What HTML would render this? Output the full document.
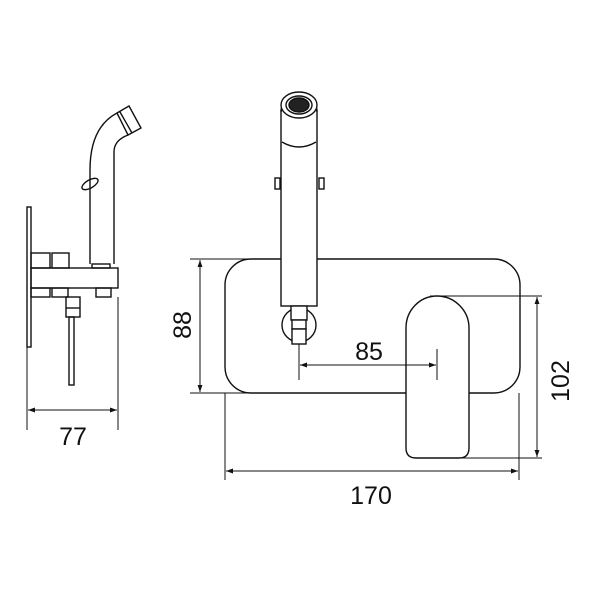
<!DOCTYPE html>
<html><head><style>html,body{margin:0;padding:0;background:#fff}svg{display:block}</style></head>
<body>
<svg width="600" height="600" viewBox="0 0 600 600" xmlns="http://www.w3.org/2000/svg">
<defs>
<marker id="a" viewBox="0 0 10 10" refX="10" refY="5" markerWidth="7" markerHeight="7" orient="auto-start-reverse" markerUnits="userSpaceOnUse"><path d="M0,1.5 L10,5 L0,8.5 z" fill="#111"/></marker>
</defs>
<g fill="none" stroke="#111" stroke-width="1.4">
<!-- left side view -->
<rect x="27" y="207" width="4" height="140"/>
<rect x="31" y="268" width="87" height="20"/>
<rect x="31" y="253" width="19" height="15"/>
<rect x="52" y="253" width="17" height="15"/>
<rect x="31" y="288" width="19" height="9"/>
<rect x="52" y="288" width="16" height="9"/>
<rect x="66" y="297" width="14" height="20"/>
<line x1="66" y1="308" x2="80" y2="308"/>
<rect x="69" y="317" width="5" height="68"/>
<rect x="92" y="264" width="18" height="4"/>
<rect x="96" y="288" width="15" height="9"/>
<path d="M90,264 L90,170 C90,140 100,122 117,113 M114,264 L114,152 C114,143 120,138 128,135"/>
<path d="M117,113 L129,106 L141,128 L128,135 Z M120,112 L132,133"/>
<ellipse cx="90" cy="184" rx="9" ry="4" transform="rotate(-30 90 184)"/>
<!-- 77 dim -->
<line x1="27" y1="347" x2="27" y2="430" stroke-width="1"/>
<line x1="118" y1="297" x2="118" y2="430" stroke-width="1"/>
<line x1="28" y1="410" x2="117" y2="410" stroke-width="1" marker-start="url(#a)" marker-end="url(#a)"/>

<!-- front view plate -->
<rect x="225" y="259" width="295" height="134" rx="26"/>
<!-- lever -->
<path d="M437,296 C454,296 469,310 469,328 L469,448 Q469,458 459,458 L416,458 Q406,458 406,448 L406,328 C406,310 420,296 437,296 Z" fill="#fff"/>
<!-- spout -->
<rect x="281" y="110" width="36" height="196" rx="0" fill="#fff"/>
<path d="M281,112 A18,18 0 0 1 317,112" />
<ellipse cx="299" cy="105" rx="18" ry="13" fill="#fff"/>
<ellipse cx="299" cy="105" rx="13" ry="9"/>
<ellipse cx="299" cy="105" rx="10" ry="7" fill="#222"/>
<path d="M282,142 Q299,152 316,142"/>
<rect x="275" y="178" width="5" height="11"/>
<rect x="319" y="178" width="5" height="11"/>
<circle cx="299" cy="325" r="17" fill="#fff"/>
<rect x="291" y="306" width="16" height="14" fill="#fff"/>
<rect x="292" y="320" width="14" height="9" fill="#fff"/>
<rect x="292" y="329" width="14" height="15" fill="#fff"/>
<!-- dims -->
<g stroke-width="1">
<line x1="190" y1="259" x2="281" y2="259"/>
<line x1="317" y1="259" x2="498" y2="259"/>
<line x1="190" y1="393" x2="406" y2="393"/>
<line x1="200" y1="260" x2="200" y2="392" marker-start="url(#a)" marker-end="url(#a)"/>
<line x1="430" y1="296" x2="542" y2="296"/>
<line x1="460" y1="458" x2="542" y2="458"/>
<line x1="537" y1="297" x2="537" y2="457" marker-start="url(#a)" marker-end="url(#a)"/>
<line x1="225" y1="393" x2="225" y2="480"/>
<line x1="519" y1="393" x2="519" y2="480"/>
<line x1="226" y1="471" x2="518" y2="471" marker-start="url(#a)" marker-end="url(#a)"/>
<line x1="299" y1="344" x2="299" y2="380"/>
<line x1="437" y1="349" x2="437" y2="380"/>
<line x1="300" y1="365" x2="436" y2="365" marker-start="url(#a)" marker-end="url(#a)"/>
</g>
</g>
<g font-family="Liberation Sans, sans-serif" font-size="25" fill="#111" text-anchor="middle">
<text x="73" y="445">77</text>
<text x="371" y="504">170</text>
<text x="369" y="360">85</text>
<text transform="translate(191,325) rotate(-90)">88</text>
<text transform="translate(569,381) rotate(-90)">102</text>
</g>
</svg>
</body></html>
